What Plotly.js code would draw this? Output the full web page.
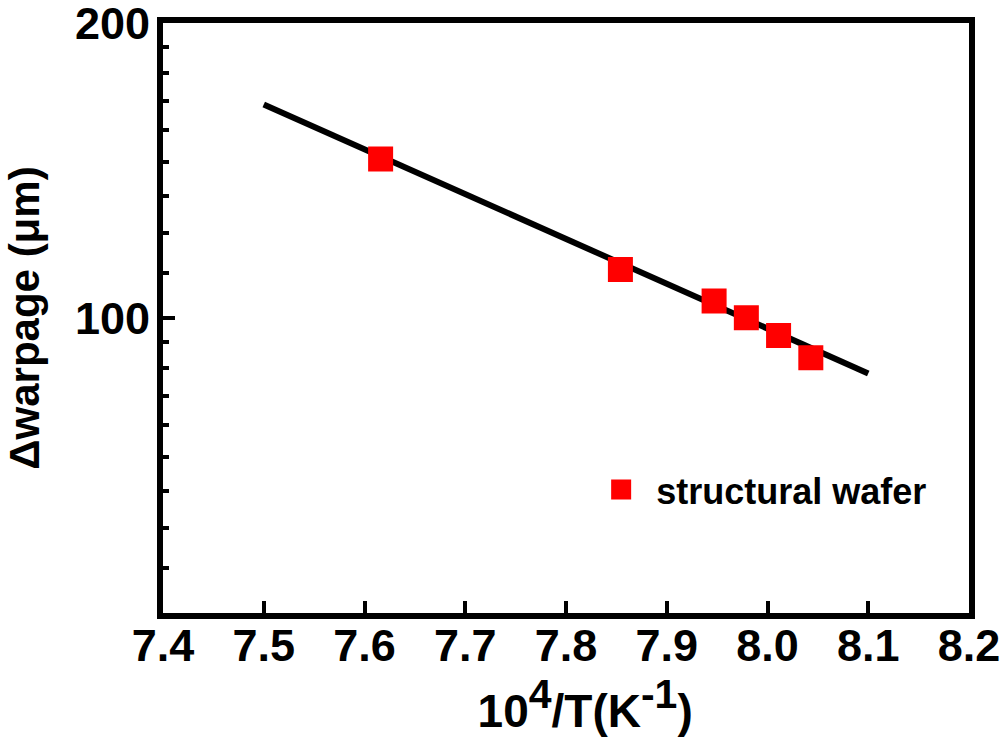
<!DOCTYPE html>
<html>
<head>
<meta charset="utf-8">
<script src="https://cdn.plot.ly/plotly-3.0.1.min.js"></script>
<style>
  html, body { margin: 0; padding: 0; background: #fff; }
  #chart { width: 1000px; height: 742px; }
</style>
</head>
<body>
<div id="chart"></div>
<script>
// Measured data (10^4/T in K^-1, Δwarpage in µm)
const invTemp = [7.616, 7.854, 7.947, 7.979, 8.011, 8.043];
const warpage = [145.3, 112.1, 104.1, 100.1, 96.0, 91.1];

// Fitted line endpoints
const fitX = [7.5, 8.1];
const fitY = [165.2, 87.8];

// Axis tick labels
const xTickVals = [7.4, 7.5, 7.6, 7.7, 7.8, 7.9, 8.0, 8.1, 8.2];
const xTickText = ['7.4', '7.5', '7.6', '7.7', '7.8', '7.9', '8.0', '8.1', '8.2'];
const yTickVals = [100, 200];
const yTickText = ['100', '200'];

const seriesName = 'structural wafer';

// minor ticks: linear subdivisions (9 intervals per major step) as drawn on the log axis
const yMinor = [];
for (let k = 1; k <= 8; k++) yMinor.push(50 + k * 50 / 9);
for (let k = 1; k <= 8; k++) yMinor.push(100 + k * 100 / 9);

const FONT = 'Liberation Sans, Arial, Helvetica, sans-serif';

const traces = [
  {
    x: fitX, y: fitY, mode: 'lines', type: 'scatter',
    line: { color: '#000000', width: 6 },
    showlegend: false, hoverinfo: 'skip'
  },
  {
    x: invTemp, y: warpage, mode: 'markers', type: 'scatter',
    name: seriesName,
    marker: { symbol: 'square', size: 21, color: '#ff0000', line: { width: 4, color: '#ff0000' } }
  }
];

const layout = {
  width: 1000, height: 742,
  paper_bgcolor: '#ffffff', plot_bgcolor: '#ffffff',
  margin: { l: 163, r: 31, t: 23, b: 129, pad: 0 },
  font: { family: FONT, color: '#000000', size: 40, weight: 'bold' },
  showlegend: true,
  legend: {
    x: 0.525, y: 0.209, xanchor: 'left', yanchor: 'middle',
    bgcolor: 'rgba(0,0,0,0)', borderwidth: 0,
    font: { family: FONT, size: 36, color: '#000000', weight: 'bold' },
    itemwidth: 60
  },
  xaxis: {
    type: 'linear', range: [7.4, 8.2],
    tickmode: 'array', tickvals: xTickVals, ticktext: xTickText,
    ticks: 'inside', ticklen: 12, tickwidth: 4, tickcolor: '#000000',
    showline: true, linewidth: 6, linecolor: '#000000', mirror: true,
    showgrid: false, zeroline: false,
    tickfont: { family: FONT, size: 45, color: '#000000', weight: 'bold' },
    ticklabelstandoff: -12,
    ticklabeloverflow: 'allow',
    title: {
      text: '&nbsp;&nbsp;&nbsp;10<sup><span style="font-size:41px">4</span></sup>/T(K<sup><span style="font-size:41px">-1</span></sup>)',
      font: { family: FONT, size: 46, color: '#000000', weight: 'bold' }, standoff: 20
    }
  },
  yaxis: {
    type: 'log', range: [Math.log10(50), Math.log10(200.05)],
    tickmode: 'array', tickvals: yTickVals, ticktext: yTickText,
    ticks: 'inside', ticklen: 12, tickwidth: 4, tickcolor: '#000000',
    minor: { tickmode: 'array', tickvals: yMinor, ticks: 'inside', ticklen: 6, tickwidth: 4, tickcolor: '#000000', showgrid: false },
    showline: true, linewidth: 6, linecolor: '#000000', mirror: true,
    showgrid: false, zeroline: false,
    tickfont: { family: FONT, size: 45, color: '#000000', weight: 'bold' },
    ticklabelstandoff: -2,
    ticklabeloverflow: 'allow',
    title: { text: 'Δwarpage (μm)', font: { family: FONT, size: 42, color: '#000000', weight: 'bold' }, standoff: 24 }
  }
};

Plotly.newPlot('chart', traces, layout, { staticPlot: true, displayModeBar: false });
</script>
</body>
</html>
